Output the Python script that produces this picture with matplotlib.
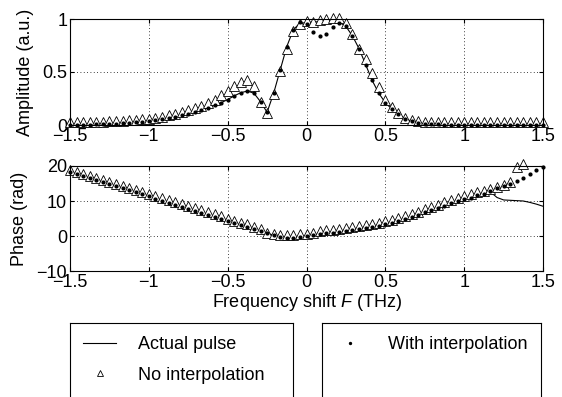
import numpy as np
import matplotlib
matplotlib.use("Agg")
import matplotlib.pyplot as plt
from matplotlib import rcParams
from matplotlib.ticker import FuncFormatter

rcParams["font.family"] = ["Liberation Sans", "DejaVu Sans"]
rcParams["font.size"] = 13
rcParams["mathtext.fontset"] = "custom"
rcParams["mathtext.it"] = "Liberation Sans:italic"
rcParams["mathtext.rm"] = "Liberation Sans"

# frequency grid (THz), 73 samples over -1.5 .. 1.5
freq = np.linspace(-1.5, 1.5, 73)

# amplitude (a.u.)
amp_actual = [0.0, 0.0, 0.0, 0.0, 0.005, 0.005, 0.01,
              0.01, 0.015, 0.02, 0.025, 0.03, 0.035,
              0.045, 0.055, 0.065, 0.075, 0.09, 0.105, 0.12, 0.14, 0.16, 0.185, 0.21, 0.24,
              0.275, 0.305, 0.32, 0.30, 0.22, 0.12, 0.30, 0.52, 0.74, 0.90, 0.96, 0.965,
              0.97, 0.975, 0.98, 0.985, 0.97, 0.93, 0.84, 0.72, 0.57, 0.42, 0.30, 0.21,
              0.15, 0.10, 0.06, 0.035, 0.02, 0.01, 0.005, 0.005, 0.0, 0.0, 0.0, 0.0,
              0.0, 0.0, 0.0, 0.0, 0.0, 0.0, 0.0, 0.0, 0.0, 0.0, 0.0, 0.0]
amp_nointerp = [0.03, 0.03, 0.03, 0.03, 0.03, 0.03, 0.035,
                0.04, 0.04, 0.045, 0.05, 0.055, 0.06,
                0.07, 0.08, 0.09, 0.10, 0.12, 0.14, 0.16, 0.18, 0.21, 0.24, 0.28, 0.32,
                0.37, 0.41, 0.42, 0.37, 0.22, 0.11, 0.29, 0.51, 0.72, 0.89, 0.95, 0.98,
                0.97, 0.99, 1.00, 1.01, 1.01, 0.96, 0.86, 0.72, 0.62, 0.49, 0.36, 0.24,
                0.17, 0.11, 0.07, 0.045, 0.035, 0.03, 0.03, 0.03, 0.03, 0.03, 0.03, 0.03,
                0.03, 0.03, 0.03, 0.03, 0.03, 0.03, 0.03, 0.03, 0.03, 0.03, 0.03, 0.03]
amp_interp = [0.0, 0.0, 0.0, 0.0, 0.005, 0.005, 0.01,
              0.01, 0.015, 0.02, 0.025, 0.03, 0.035,
              0.045, 0.055, 0.065, 0.075, 0.09, 0.105, 0.12, 0.14, 0.16, 0.185, 0.21, 0.24,
              0.275, 0.305, 0.32, 0.30, 0.22, 0.12, 0.30, 0.52, 0.74, 0.90, 0.97, 0.95,
              0.88, 0.84, 0.86, 0.92, 0.96, 0.93, 0.84, 0.72, 0.57, 0.42, 0.30, 0.21,
              0.15, 0.10, 0.06, 0.035, 0.02, 0.01, 0.005, 0.005, 0.0, 0.0, 0.0, 0.0,
              0.0, 0.0, 0.0, 0.0, 0.0, 0.0, 0.0, 0.0, 0.0, 0.0, 0.0, 0.0]

# phase (rad)
phase_actual = [18.3, 17.7, 17.1, 16.5, 16.0, 15.4, 14.8,
                14.2, 13.6, 13.05, 12.5, 11.9, 11.3,
                10.7, 10.1, 9.55, 9.0, 8.4, 7.8, 7.2, 6.6, 6.05, 5.5, 4.9, 4.3,
                3.7, 3.1, 2.55, 2.0, 1.4, 0.8, 0.2, -0.3, -0.5, -0.5, -0.3, 0.0,
                0.3, 0.55, 0.8, 1.0, 1.2, 1.4, 1.65, 1.9, 2.2, 2.5, 2.9, 3.3,
                3.8, 4.3, 4.9, 5.5, 6.1, 6.8, 7.4, 8.0, 8.7, 9.3, 9.9, 10.5,
                11.0, 11.6, 12.1, 12.6, 11.0, 10.3, 10.2, 10.1, 10.0, 9.6, 9.1, 8.5]
phase_nointerp = [19.0, 18.4, 17.8, 17.2, 16.7, 16.1, 15.5,
                  14.9, 14.3, 13.8, 13.2, 12.6, 12.0,
                  11.4, 10.8, 10.3, 9.7, 9.1, 8.5, 7.9, 7.3, 6.8, 6.2, 5.6, 5.0,
                  4.4, 3.8, 3.3, 2.7, 1.9, 1.0, 0.5, 0.4, 0.4, 0.4, 0.5, 0.7,
                  1.0, 1.3, 1.6, 1.8, 2.0, 2.3, 2.5, 2.8, 3.1, 3.4, 3.8, 4.2,
                  4.7, 5.2, 5.8, 6.4, 7.0, 7.7, 8.3, 8.9, 9.6, 10.2, 10.8, 11.4,
                  12.0, 12.5, 13.0, 13.5, 14.1, 14.6, 15.5, 19.6, 20.5, np.nan, np.nan, np.nan]
phase_interp = [18.3, 17.7, 17.1, 16.5, 16.0, 15.4, 14.8,
                14.2, 13.6, 13.05, 12.5, 11.9, 11.3,
                10.7, 10.1, 9.55, 9.0, 8.4, 7.8, 7.2, 6.6, 6.05, 5.5, 4.9, 4.3,
                3.7, 3.1, 2.55, 2.0, 1.4, 0.8, 0.2, -0.3, -0.5, -0.5, -0.3, 0.0,
                0.3, 0.55, 0.8, 1.0, 1.2, 1.4, 1.65, 1.9, 2.2, 2.5, 2.9, 3.3,
                3.8, 4.3, 4.9, 5.5, 6.1, 6.8, 7.4, 8.0, 8.7, 9.3, 9.9, 10.5,
                11.0, 11.6, 12.1, 13.0, 13.7, 14.3, 15.0, 15.6, 16.7, 17.8, 18.8, 19.6]

labels = ["Actual pulse", "No interpolation", "With interpolation"]


def fmt(v, pos):
    return ("%g" % v).replace("-", "\u2212")


def style_axes(ax, ylim, yticks):
    ax.set_xlim(-1.5, 1.5)
    ax.set_ylim(*ylim)
    ax.set_xticks([-1.5, -1, -0.5, 0, 0.5, 1, 1.5])
    ax.set_yticks(yticks)
    ax.xaxis.set_major_formatter(FuncFormatter(fmt))
    ax.yaxis.set_major_formatter(FuncFormatter(fmt))
    ax.grid(True, linestyle=(0, (1, 3)), color="black", linewidth=0.6)
    ax.tick_params(direction="in", top=True, right=True, length=3, pad=2, labelsize=13)
    for s in ax.spines.values():
        s.set_linewidth(0.8)


fig = plt.figure(figsize=(5.62, 3.97), dpi=100)

ax1 = fig.add_axes([70 / 562, 1 - 125 / 397, 473 / 562, 106 / 397])
ax2 = fig.add_axes([70 / 562, 1 - 271 / 397, 473 / 562, 105 / 397])

tri_kw = dict(linestyle="none", marker="^", markersize=7, markerfacecolor="white",
              markeredgecolor="black", markeredgewidth=0.6, clip_on=False)
dot_kw = dict(linestyle="none", marker=".", markersize=4, color="black", clip_on=False)

ln_act, = ax1.plot(freq, amp_actual, color="black", linewidth=0.8)
ln_tri, = ax1.plot(freq, amp_nointerp, **tri_kw)
ln_dot, = ax1.plot(freq, amp_interp, **dot_kw)
style_axes(ax1, (0, 1), [0, 0.5, 1])
ax1.set_ylabel("Amplitude (a.u.)", labelpad=6)

ax2.plot(freq, phase_actual, color="black", linewidth=0.8)
ax2.plot(freq, phase_nointerp, **tri_kw)
ax2.plot(freq, phase_interp, **dot_kw)
style_axes(ax2, (-10, 20), [-10, 0, 10, 20])
ax2.set_ylabel("Phase (rad)", labelpad=6)
ax2.set_xlabel("Frequency shift $F$ (THz)", labelpad=1)

# legend boxes (bottom cut off by the figure edge)
box_h = (397 - 323) / 397
boxl = fig.add_axes([70 / 562, -0.02, 223 / 562, box_h + 0.02])
boxr = fig.add_axes([322 / 562, -0.02, 219 / 562, box_h + 0.02])
for b in (boxl, boxr):
    b.set_xticks([])
    b.set_yticks([])
    b.spines["bottom"].set_visible(False)
    for s in b.spines.values():
        s.set_linewidth(0.8)

leg_kw = dict(loc="upper left", frameon=False, handlelength=1.83, handletextpad=1.2,
              borderpad=0, borderaxespad=0, labelspacing=0.75, fontsize=13,
              markerscale=0.7, bbox_transform=fig.transFigure)
fig.legend([ln_act, ln_tri], labels[:2], bbox_to_anchor=(83 / 562, 1 - 336 / 397), **leg_kw)
fig.legend([ln_dot], labels[2:], bbox_to_anchor=(333 / 562, 1 - 336 / 397), **leg_kw)

plt.savefig("out.png", dpi=100)
plt.close()
